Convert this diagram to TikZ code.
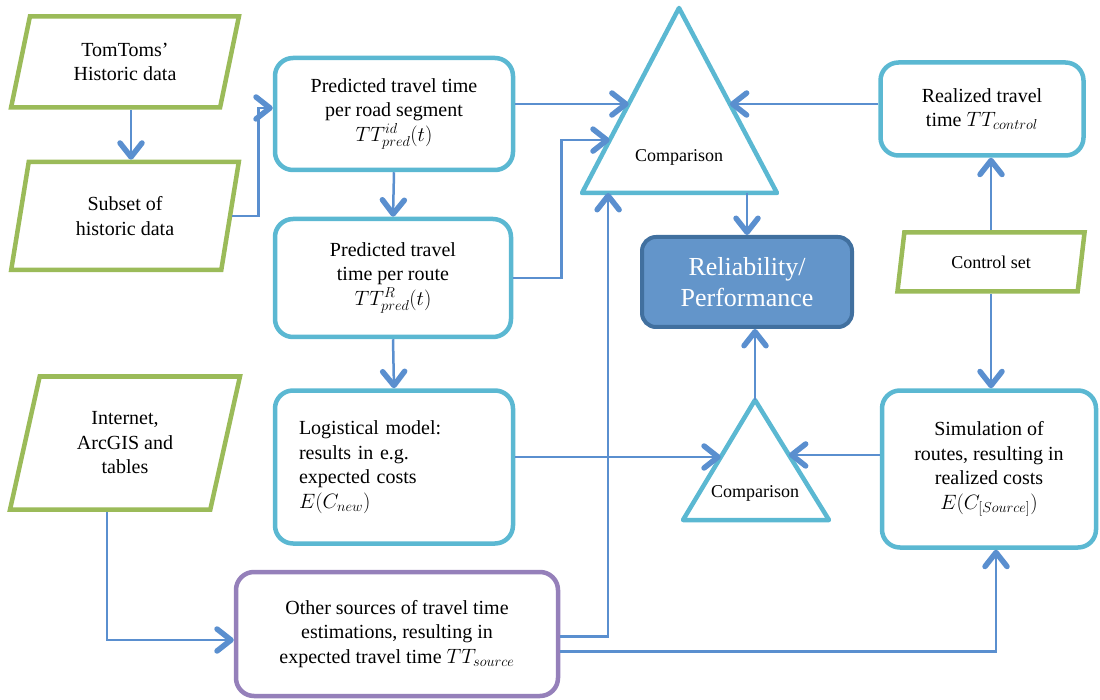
\documentclass[tikz,border=0pt]{standalone}
\usepackage{fontspec}
\setmainfont{Liberation Serif}
\usetikzlibrary{arrows.meta,calc,shapes.geometric}
\definecolor{boxcyan}{HTML}{5BB8D2}
\definecolor{paragreen}{HTML}{9BBB59}
\definecolor{linkblue}{HTML}{5A8FCF}
\definecolor{srcpurple}{HTML}{9580BA}
\definecolor{relfill}{HTML}{6395CA}
\definecolor{reldraw}{HTML}{41709F}
\tikzset{
	proc/.style={draw=boxcyan,line width=4.5pt,rounded corners=18pt,fill=white,align=center,inner sep=0pt,font=\fontsize{20}{24.5}\selectfont},
	datain/.style={trapezium,trapezium stretches=true,draw=paragreen,line width=4.5pt,fill=white,align=center,inner sep=0pt,font=\fontsize{20}{24.5}\selectfont},
	cmptri/.style={draw=boxcyan,line width=4.5pt,line join=round},
	cmptext/.style={font=\fontsize{18}{20}\selectfont},
	conn/.style={draw=linkblue,line width=2.5pt,-{Straight Barb[length=14pt,width=22pt,line width=5.5pt 0,round]}},
}
\begin{document}
\begin{tikzpicture}[x=1pt,y=-1pt]
		\useasboundingbox (0,0) rectangle (1100,700);
		% data inputs
		\node[datain,trapezium left angle=75,trapezium right angle=105,minimum width=228pt,minimum height=91pt] (tom) at (125,62) {TomToms’\\Historic data};
		\node[datain,trapezium left angle=77,trapezium right angle=103,minimum width=228pt,minimum height=108pt] (subset) at (125,216) {Subset of\\historic data};
		\node[datain,trapezium left angle=75,trapezium right angle=105,minimum width=230pt,minimum height=133pt] (inet) at (125,443) {Internet,\\ArcGIS and\\tables};
		\node[datain,trapezium left angle=76,trapezium right angle=104,minimum width=188pt,minimum height=59pt,font=\fontsize{18}{20}\selectfont] (ctrl) at (991,262) {Control set};
		% process boxes
		\node[proc,minimum width=238pt,minimum height=112pt] (pred1) at (394,114) {Predicted travel time\\per road segment\\$TT^{id}_{pred}(t)$};
		\node[proc,minimum width=236pt,minimum height=118pt] (pred2) at (393,278) {Predicted travel\\time per route\\$TT^{R}_{pred}(t)$};
		\node[proc,minimum height=153pt,text width=190pt,inner xsep=24pt,align=left] (logi) at (394,467) {Logistical model:\\results in e.g.\\expected costs\\$E(C_{new})$};
		\node[proc,draw=srcpurple,minimum width=322pt,minimum height=124pt] (other) at (397,634) {Other sources of travel time\\estimations, resulting in\\expected travel time $TT_{source}$};
		\node[proc,minimum width=203pt,minimum height=93pt] (real) at (982,109) {Realized travel\\time $TT_{control}$};
		\node[proc,minimum width=214pt,minimum height=157pt] (sim) at (989,469) {Simulation of\\routes, resulting in\\realized costs\\$E\bigl(C_{[Source]}\bigr)$};
		\node[proc,draw=reldraw,fill=relfill,text=white,line width=4pt,rounded corners=14pt,minimum width=210pt,minimum height=90pt,font=\fontsize{26}{31}\selectfont] (rel) at (747,282) {Reliability/\\Performance};
		% comparison triangles
		\coordinate (bigA) at (679,8);
		\coordinate (bigL) at (582,193);
		\coordinate (bigR) at (777,193);
		\draw[cmptri] (bigA) -- (bigR) -- (bigL) -- cycle;
		\node[cmptext] (cmpbig) at (679,157) {Comparison};
		\coordinate (smlA) at (755,400);
		\coordinate (smlL) at (683,520);
		\coordinate (smlR) at (829,520);
		\draw[cmptri] (smlA) -- (smlR) -- (smlL) -- cycle;
		\node[cmptext] (cmpsml) at (755,493) {Comparison};
		% entry points on the triangles
		\coordinate (bigin1) at ($(bigL)!0.481!(bigA)$);
		\coordinate (bigin2) at ($(bigL)!0.286!(bigA)$);
		\coordinate (bigin3) at ($(bigR)!0.481!(bigA)$);
		\coordinate (bigin4) at ($(bigL)!0.134!(bigR)$);
		\coordinate (smlin1) at ($(smlL)!0.525!(smlA)$);
		\coordinate (smlin2) at ($(smlR)!0.542!(smlA)$);
		% connectors
		\draw[conn] ([xshift=6pt]tom.center |- tom.south) -- ([xshift=6pt]tom.center |- subset.north);
		\draw[conn] (subset.east) -- ++(26,0) |- ([yshift=6pt]pred1.west);
		\draw[conn] (pred1.south) -- (pred2.north);
		\draw[conn] (pred2.south) -- (logi.north);
		\draw[conn] (pred1.east |- bigin1) -- (bigin1);
		\draw[conn] (pred2.east) -- ++(48,0) |- (bigin2);
		\draw[conn] (real.west |- bigin3) -- (bigin3);
		\draw[conn] (rel.north |- bigL) -- (rel.north);
		\draw[conn] (smlA) -- (smlA |- rel.south);
		\draw[conn] (logi.east |- smlin1) -- (smlin1);
		\draw[conn] (sim.west |- smlin2) -- (smlin2);
		\draw[conn] ([yshift=-2.5pt]other.east) -| (bigin4);
		\draw[conn] ([yshift=-17.5pt]other.east) -| ([xshift=7pt]sim.south);
		\draw[conn] ([xshift=-18pt]inet.center |- inet.south) |- ([yshift=-6pt]other.west);
		\draw[conn] (ctrl.center |- ctrl.north) -- (ctrl.center |- real.south);
		\draw[conn] (ctrl.center |- ctrl.south) -- (ctrl.center |- sim.north);
	\end{tikzpicture}
\end{document}
